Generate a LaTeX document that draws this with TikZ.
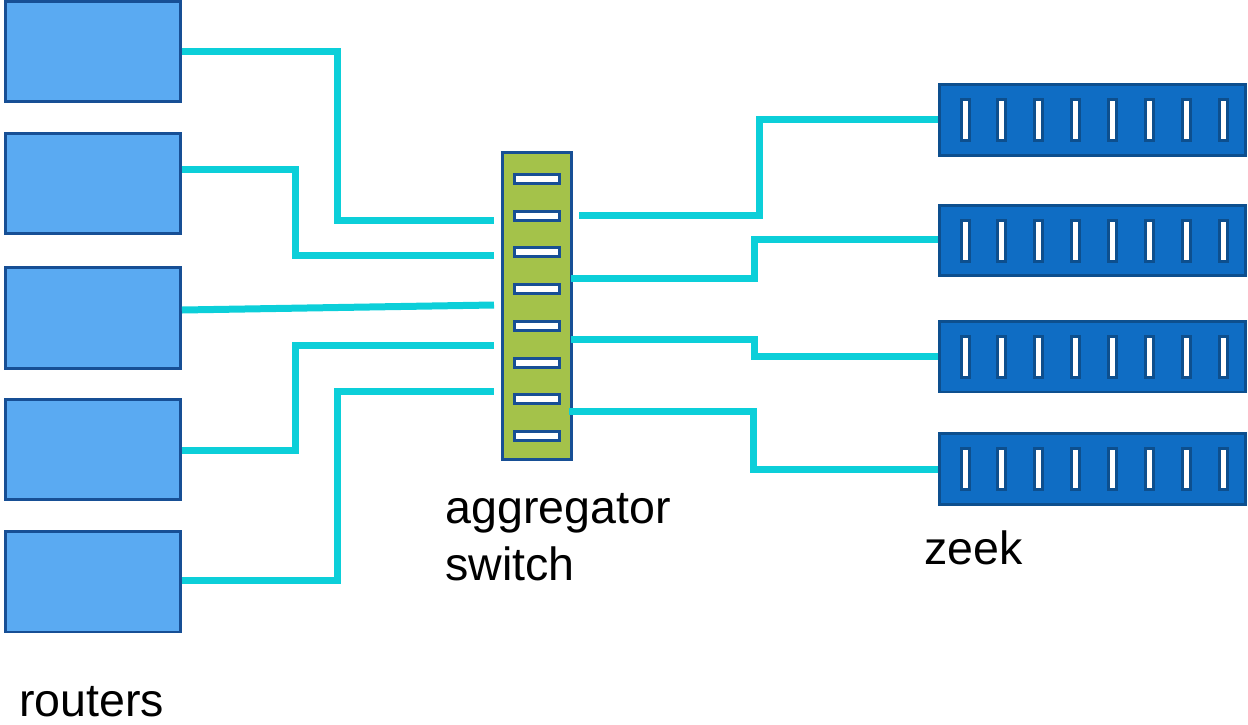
\documentclass[tikz,border=0pt]{standalone}
\usepackage{fontspec}
\setmainfont{Liberation Sans}
\definecolor{routerblue}{HTML}{5AAAF2}
\definecolor{zeekblue}{HTML}{0F6DC4}
\definecolor{edgeblue}{HTML}{174F95}
\definecolor{slotedge}{HTML}{0D4F8E}
\definecolor{switchgreen}{HTML}{A4C24A}
\definecolor{linkcyan}{HTML}{0CCFD9}
\tikzset{
  router/.style={draw=edgeblue, line width=0.06cm, fill=routerblue, minimum width=3.5cm, minimum height=2.02cm, inner sep=0pt},
  switchbox/.style={draw=edgeblue, line width=0.06cm, fill=switchgreen, minimum width=1.38cm, minimum height=6.14cm, inner sep=0pt},
  port/.style={draw=edgeblue, line width=0.06cm, fill=white, minimum width=0.9cm, minimum height=0.18cm, inner sep=0pt},
  zeekbox/.style={draw=slotedge, line width=0.06cm, fill=zeekblue, minimum width=6.12cm, minimum height=1.42cm, inner sep=0pt},
  slot/.style={draw=slotedge, line width=0.06cm, fill=white, minimum width=0.16cm, minimum height=0.82cm, inner sep=0pt},
  link/.style={draw=linkcyan, line width=0.14cm},
  label/.style={font=\fontsize{26.5}{32}\selectfont, inner sep=0pt, align=left}
}
\begin{document}
\begin{tikzpicture}[x=0.02cm, y=-0.02cm]
\useasboundingbox (0,0) rectangle (1248,724);

% routers
\node[router] (r1) at (93,51.5) {};
\node[router] (r2) at (93,183.5) {};
\node[router] (r3) at (93,318) {};
\node[router] (r4) at (93,449.5) {};
\node[router] (r5) at (93,581.5) {};

% aggregator switch
\node[switchbox] (sw) at (537,306) {};
\foreach \i in {0,...,7}
  \node[port] (p\i) at (537,179+36.7*\i) {};

% zeek boxes
\foreach \y [count=\k] in {120,240.5,356.5,469} {
  \node[zeekbox] (z\k) at (1092.5,\y) {};
  \foreach \j in {0,...,7}
    \node[slot] at (965+36.86*\j,\y) {};
}

% link ends next to the switch
\coordinate (in1) at (494,220);
\coordinate (in2) at (494,255);
\coordinate (in3) at (494,305);
\coordinate (in4) at (494,345);
\coordinate (in5) at (494,391);
\coordinate (out1) at (579,215);
\coordinate (out2) at (571,278);
\coordinate (out3) at (571,339);
\coordinate (out4) at (569,411);

% router links
\draw[link] (r1.east) -| (337,220) -- (in1);
\draw[link] (r2.east |- 0,169) -| (295,255) -- (in2);
\draw[link] (r3.east |- 0,310) -- (in3);
\draw[link] (r4.east |- 0,450) -| (295,345) -- (in4);
\draw[link] (r5.east |- 0,580) -| (337,391) -- (in5);

% zeek links
\draw[link] (out1) -| (759,119) -- (z1.west |- 0,119);
\draw[link] (out2) -| (754,239) -- (z2.west |- 0,239);
\draw[link] (out3) -| (754,356) -- (z3.west |- 0,356);
\draw[link] (out4) -| (753,469) -- (z4.west);

% labels
\node[label, anchor=base west] (swlabel) at (445,580) {aggregator\\switch};
\node[label, anchor=base west] (zlabel) at (924,564) {zeek};
\node[label, anchor=base west] (rlabel) at (19,716) {routers};
\end{tikzpicture}
\end{document}
